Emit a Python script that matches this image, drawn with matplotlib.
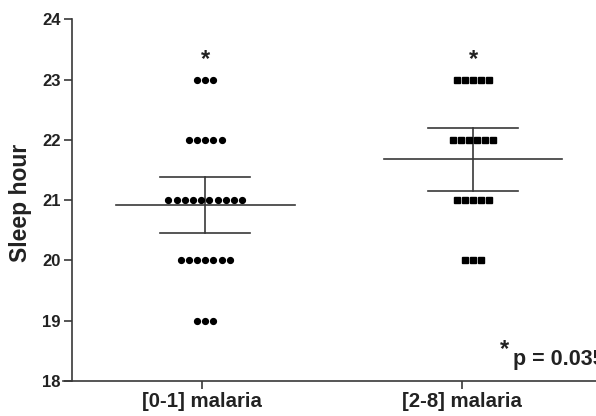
import matplotlib
matplotlib.use("Agg")
import matplotlib.pyplot as plt
import numpy as np

plt.rcParams['font.family'] = ['Liberation Sans', 'DejaVu Sans']

# ---- data ----
categories = ["[0-1] malaria", "[2-8] malaria"]
levels_g1 = [23, 22, 21, 20, 19]
counts_g1 = [3, 5, 10, 7, 3]
levels_g2 = [23, 22, 21, 20]
counts_g2 = [5, 6, 5, 3]
means = [20.92, 21.68]
err_low = [20.45, 21.16]
err_high = [21.39, 22.19]
yticks = [18, 19, 20, 21, 22, 23, 24]
p_text = "p = 0.035"

# ---- layout ----
W, H = 596, 416
fig = plt.figure(figsize=(W / 100, H / 100), dpi=100)
ax = fig.add_axes([63 / W, (416 - 381) / H, (W - 63) / W + 0.05, (381 - 19.3) / H])

ax.set_xlim(0.465, 2.515 + 0.05 * W / 260)
ax.set_ylim(18, 24)

centers = [1.012, 2.042]
spacing = 0.0315
mean_hw = 0.344
cap_hw = 0.173
lc = '#383838'

def draw_group(c, levels, counts, marker, ms):
    for lv, n in zip(levels, counts):
        xs = c + (np.arange(n) - (n - 1) / 2) * spacing
        ax.plot(xs, [lv] * n, linestyle='none', marker=marker, ms=ms,
                color='black', mec='black', zorder=3)

draw_group(centers[0], levels_g1, counts_g1, 'o', 4.2)
draw_group(centers[1], levels_g2, counts_g2, 's', 4.0)

for c, m, lo, hi in zip(centers, means, err_low, err_high):
    ax.plot([c - mean_hw, c + mean_hw], [m, m], color=lc, lw=1.2, zorder=2)
    ax.plot([c - cap_hw, c + cap_hw], [lo, lo], color=lc, lw=1.2, zorder=2)
    ax.plot([c - cap_hw, c + cap_hw], [hi, hi], color=lc, lw=1.2, zorder=2)
    ax.plot([c, c], [lo, hi], color=lc, lw=1.2, zorder=2)
    ax.text(c, 23.33, "*", ha='center', va='center', fontsize=17, fontweight='bold',
            color='#222222')

# spines
for s in ['top', 'right']:
    ax.spines[s].set_visible(False)
ax.spines['left'].set_position(('data', 0.5))
for s in ['left', 'bottom']:
    ax.spines[s].set_color(lc)
    ax.spines[s].set_linewidth(1.2)

ax.set_yticks(yticks)
ax.set_yticklabels([str(t) for t in yticks], fontsize=12, fontweight='bold', color='#222222')
ax.set_xticks([1, 2])
ax.set_xticklabels(categories, fontsize=14.7, fontweight='bold', color='#222222')
ax.tick_params(axis='both', length=6, width=1.2, color=lc, direction='out', pad=2)

fig.text(21 / W, 1 - 203 / H, "Sleep hour", rotation=90, ha='center', va='center',
         fontsize=16.5, fontweight='bold', color='#222222')

ax.text(2.163, 18.53, "*", ha='center', va='center', fontsize=17, fontweight='bold',
        color='#222222')
ax.text(2.197, 18.36, p_text, ha='left', va='center', fontsize=15.5, fontweight='bold',
        color='#222222', clip_on=False)

fig.savefig("out.png", dpi=100)
